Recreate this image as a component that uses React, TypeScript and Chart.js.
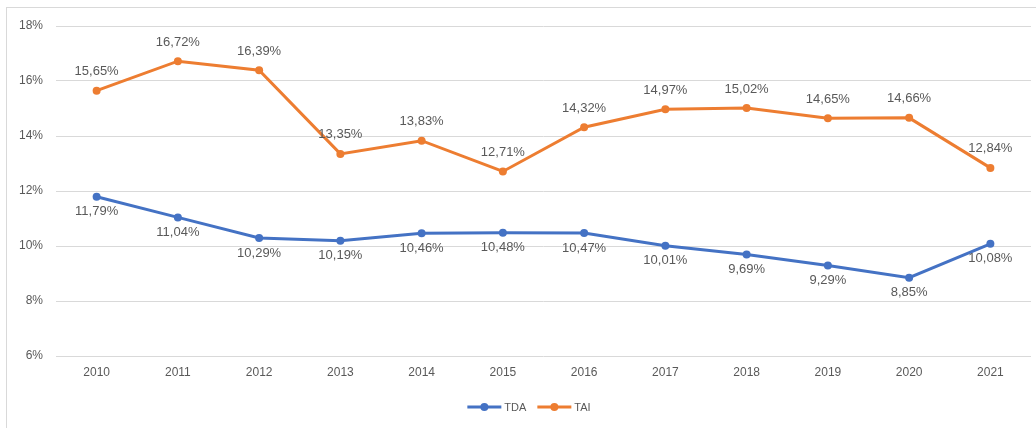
import React, { useEffect, useRef } from "react";
import { Chart, registerables } from "chart.js";

Chart.register(...registerables);

const years = ["2010", "2011", "2012", "2013", "2014", "2015", "2016", "2017", "2018", "2019", "2020", "2021"];
const tdaValues = [11.79, 11.04, 10.29, 10.19, 10.46, 10.48, 10.47, 10.01, 9.69, 9.29, 8.85, 10.08];
const taiValues = [15.65, 16.72, 16.39, 13.35, 13.83, 12.71, 14.32, 14.97, 15.02, 14.65, 14.66, 12.84];
const yTicks = [6, 8, 10, 12, 14, 16, 18];
const seriesNames = ["TDA", "TAI"];

const BLUE = "#4472C4";
const ORANGE = "#ED7D31";
const TEXT = "#595959";
const FONT = "'Liberation Sans', Arial, sans-serif";

const fmt = (v: number) => v.toFixed(2).replace(".", ",") + "%";

const labelPlugin = {
  id: "valueLabels",
  afterDatasetsDraw(chart: any) {
    const ctx = chart.ctx;
    ctx.save();
    ctx.font = `13px ${FONT}`;
    ctx.fillStyle = TEXT;
    ctx.textAlign = "center";
    ctx.textBaseline = "middle";
    chart.data.datasets.forEach((ds: any, i: number) => {
      const meta = chart.getDatasetMeta(i);
      meta.data.forEach((pt: any, j: number) => {
        const v = ds.data[j] as number;
        const dy = ds.label === "TAI" ? -19 : 15;
        ctx.fillText(fmt(v), pt.x, pt.y + dy);
      });
    });
    ctx.restore();
  },
};

const legendPlugin = {
  id: "customLegend",
  afterDraw(chart: any) {
    const ctx = chart.ctx;
    ctx.save();
    ctx.font = `11px ${FONT}`;
    ctx.textBaseline = "middle";
    ctx.textAlign = "left";
    const y = 407;
    const markerW = 34;
    const gapText = 3;
    const gapItem = 11;
    const items = chart.data.datasets.map((ds: any) => ({
      label: ds.label,
      color: ds.borderColor,
      w: markerW + gapText + ctx.measureText(ds.label).width,
    }));
    const total = items.reduce((a: number, it: any) => a + it.w, 0) + gapItem * (items.length - 1);
    let x = chart.width / 2 + 11 - total / 2;
    items.forEach((it: any) => {
      ctx.strokeStyle = it.color;
      ctx.lineWidth = 3;
      ctx.beginPath();
      ctx.moveTo(x, y);
      ctx.lineTo(x + markerW, y);
      ctx.stroke();
      ctx.fillStyle = it.color;
      ctx.beginPath();
      ctx.arc(x + markerW / 2, y, 4, 0, Math.PI * 2);
      ctx.fill();
      ctx.fillStyle = TEXT;
      ctx.fillText(it.label, x + markerW + gapText, y + 0.5);
      x += it.w + gapItem;
    });
    ctx.restore();
  },
};

export default function App() {
  const ref = useRef<HTMLCanvasElement>(null);
  useEffect(() => {
    if (!ref.current) return;
    const chart = new Chart(ref.current, {
      type: "line",
      data: {
        labels: years,
        datasets: [
          {
            label: seriesNames[0],
            data: tdaValues,
            borderColor: BLUE,
            backgroundColor: BLUE,
            borderWidth: 3,
            pointRadius: 4,
            pointBorderWidth: 0,
            tension: 0,
          },
          {
            label: seriesNames[1],
            data: taiValues,
            borderColor: ORANGE,
            backgroundColor: ORANGE,
            borderWidth: 3,
            pointRadius: 4,
            pointBorderWidth: 0,
            tension: 0,
          },
        ],
      },
      options: {
        responsive: false,
        animation: false,
        layout: { padding: { top: 26, right: 5, left: 0, bottom: 40 } },
        elements: { point: { pointStyle: "circle" } },
        plugins: {
          tooltip: { enabled: false },
          legend: { display: false },
        },
        scales: {
          x: {
            offset: true,
            grid: { display: false, drawTicks: false },
            border: { display: false },
            ticks: { color: TEXT, font: { size: 12, family: FONT }, padding: 9, maxRotation: 0 },
            afterFit: (s: any) => {
              s.height = 32;
            },
          },
          y: {
            min: 6,
            max: 18,
            afterBuildTicks: (s: any) => {
              s.ticks = yTicks.map((v) => ({ value: v }));
            },
            grid: { color: "#D9D9D9", lineWidth: 1, drawTicks: false },
            border: { display: false },
            ticks: {
              color: TEXT,
              font: { size: 12, family: FONT },
              padding: 13,
              callback: (v: any) => v + "%",
            },
            afterFit: (s: any) => {
              s.width = 56;
            },
          },
        },
      },
      plugins: [labelPlugin, legendPlugin],
    });
    return () => chart.destroy();
  }, []);

  return (
    <div style={{ position: "fixed", left: 0, top: 0, width: 1036, height: 428, background: "#fff", overflow: "hidden" }}>
      <div
        style={{
          position: "absolute",
          left: 6,
          top: 7,
          width: 1100,
          height: 500,
          border: "1px solid #D9D9D9",
          boxSizing: "border-box",
        }}
      />
      <canvas ref={ref} width={1036} height={428} style={{ position: "absolute", left: 0, top: 0 }} />
    </div>
  );
}
